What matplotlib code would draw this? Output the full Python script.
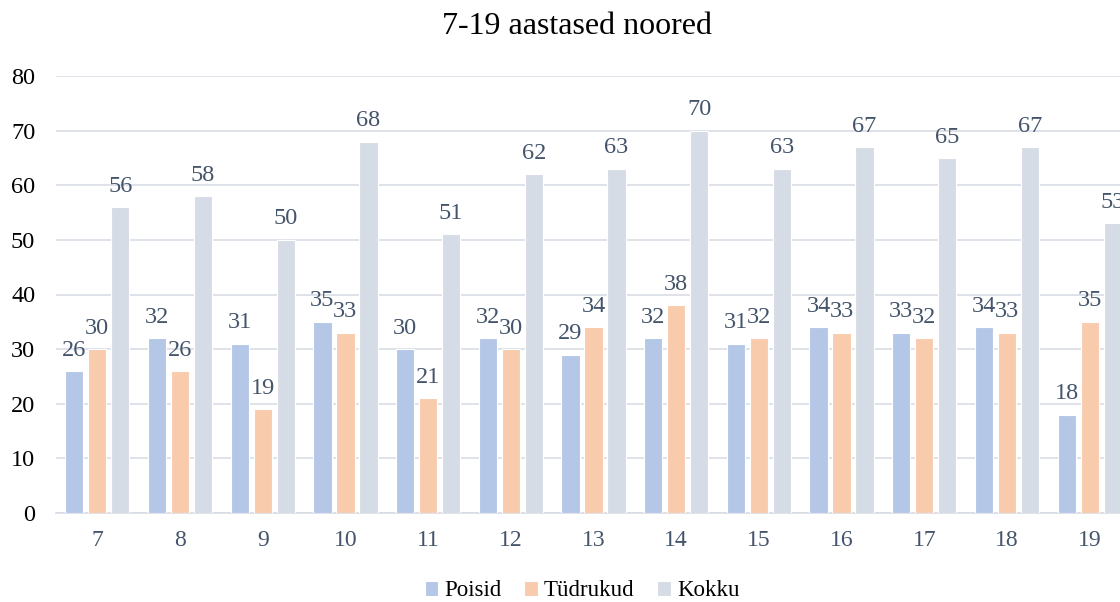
import matplotlib.pyplot as plt
import numpy as np

plt.rcParams['font.family'] = ['Liberation Serif', 'DejaVu Serif']

vanus = ['7', '8', '9', '10', '11', '12', '13', '14', '15', '16', '17', '18', '19']
poisid = [26, 32, 31, 35, 30, 32, 29, 32, 31, 34, 33, 34, 18]
tudrukud = [30, 26, 19, 33, 21, 30, 34, 38, 32, 33, 32, 33, 35]
kokku = [56, 58, 50, 68, 51, 62, 63, 70, 63, 67, 65, 67, 53]

varvid = ['#B4C7E7', '#F8CBAD', '#D6DCE5']
silt_varv = '#44546A'

fig = plt.figure(figsize=(11.2, 6.02), dpi=100)
ax = fig.add_axes([56 / 1120, 89 / 602, 1075 / 1120, 437 / 602])

x = np.arange(len(vanus))
w = 0.22
d = 0.278
for i, (vals, nimi) in enumerate(zip([poisid, tudrukud, kokku], ['Poisid', 'Tüdrukud', 'Kokku'])):
    bars = ax.bar(x + (i - 1) * d, vals, w, color=varvid[i], edgecolor='white',
                  linewidth=0.8, label=nimi, zorder=3)
    for b, v in zip(bars, vals):
        ax.annotate(str(v), (b.get_x() + b.get_width() / 2, v), xytext=(0, 7.5),
                    textcoords='offset points', ha='center', va='bottom',
                    fontsize=17.5, color=silt_varv, annotation_clip=False)

ax.set_xlim(-0.5, len(vanus) - 0.5)
ax.set_ylim(0, 80)
ax.set_yticks(range(0, 81, 10))
ax.set_xticks(x)
ax.set_xticklabels(vanus)
ax.tick_params(axis='x', length=0, labelsize=17, labelcolor=silt_varv, pad=12)
ax.tick_params(axis='y', length=0, labelsize=17.5, labelcolor='black', pad=15)
ax.grid(axis='y', color='#D9DDE5', linewidth=1.2, zorder=0)
for s in ['top', 'right', 'left']:
    ax.spines[s].set_visible(False)
ax.spines['bottom'].set_color('#D9DDE5')
ax.spines['bottom'].set_linewidth(1.2)

fig.text(577 / 1120, 1 - 27 / 602, '7-19 aastased noored', ha='center', va='center',
         fontsize=23, color='black')

fig.legend(loc='center', bbox_to_anchor=(582 / 1120, 1 - 591 / 602), ncol=3,
           frameon=False, fontsize=16.5, handlelength=0.6, handleheight=0.6,
           handletextpad=0.25, columnspacing=1.0)

fig.savefig('out.png', dpi=100)
